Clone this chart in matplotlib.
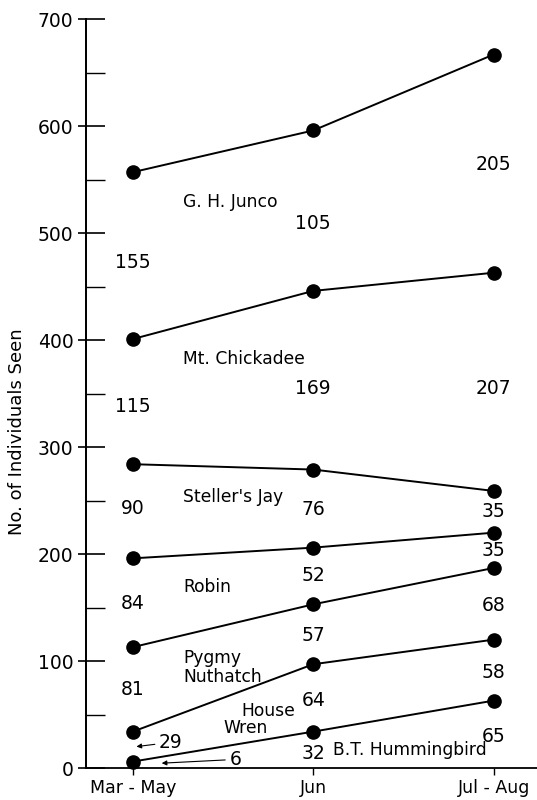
import numpy as np
import matplotlib.pyplot as plt
from matplotlib.ticker import MultipleLocator

# -------------------------
# Data (cumulative totals)
# -------------------------
periods = ["Mar - May", "Jun", "Jul - Aug"]

hummingbird = [6, 34, 63]
house_wren = [34, 97, 120]
nuthatch = [113, 153, 187]
robin = [196, 206, 220]
stellers_jay = [284, 279, 259]
chickadee = [401, 446, 463]
junco = [557, 596, 667]

# counts printed between the lines
counts_marmay = ["155", "115", "90", "84", "81"]
counts_marmay_y = [473, 338, 243, 154, 73]
counts_jun = ["105", "169", "76", "52", "57", "64", "32"]
counts_jun_y = [509, 355, 242, 180, 124, 63, 14]
counts_julaug = ["205", "207", "35", "35", "68", "58", "65"]
counts_julaug_y = [564, 355, 240, 203, 152, 89, 29]

# species names (x, y in data units)
species = ["G. H. Junco", "Mt. Chickadee", "Steller's Jay", "Robin",
           "Pygmy\nNuthatch", "House", "Wren", "B.T. Hummingbird"]
species_x = [0.28, 0.28, 0.28, 0.28, 0.28, 0.60, 0.50, 1.11]
species_y = [529, 382, 253, 169, 94, 53, 37, 17]

# -------------------------
# Plot
# -------------------------
fig = plt.figure(figsize=(5.37, 8), dpi=100)
ax = fig.add_axes([0.160, 0.040, 0.840, 0.936])

x = np.arange(len(periods))
for series in [hummingbird, house_wren, nuthatch, robin,
               stellers_jay, chickadee, junco]:
    ax.plot(x, series, color="black", linewidth=1.4,
            marker="o", markersize=9.5, clip_on=False, zorder=3)

for label, yv in zip(counts_marmay, counts_marmay_y):
    ax.text(0, yv, label, ha="center", va="center", fontsize=13.5)
for label, yv in zip(counts_jun, counts_jun_y):
    ax.text(1, yv, label, ha="center", va="center", fontsize=13.5)
for label, yv in zip(counts_julaug, counts_julaug_y):
    ax.text(2, yv, label, ha="center", va="center", fontsize=13.5)

for label, xv, yv in zip(species, species_x, species_y):
    ax.text(xv, yv, label, ha="left", va="center", fontsize=12.3,
            linespacing=1.1)

# arrows for the two small Mar-May counts
ax.annotate("29", xy=(0.02, 20), xytext=(0.145, 24), fontsize=13.5,
            ha="left", va="center",
            arrowprops=dict(arrowstyle="-|>", color="black", lw=0.8,
                            mutation_scale=7, shrinkA=1, shrinkB=0))
ax.annotate("6", xy=(0.16, 4.5), xytext=(0.535, 8), fontsize=13.5,
            ha="left", va="center",
            arrowprops=dict(arrowstyle="-|>", color="black", lw=0.8,
                            mutation_scale=7, shrinkA=1, shrinkB=0))

ax.set_xlim(-0.26, 2.24)
ax.set_ylim(0, 700)
ax.set_xticks(x)
ax.set_xticklabels(periods, fontsize=12.5)
ax.yaxis.set_major_locator(MultipleLocator(100))
ax.yaxis.set_minor_locator(MultipleLocator(50))
ax.tick_params(axis="y", which="major", direction="in", length=14,
               width=1.2, labelsize=13.5, pad=9)
ax.tick_params(axis="y", which="minor", direction="in", length=14, width=1.0)
ax.tick_params(axis="x", direction="out", length=5, width=1.0, pad=3)

# short outward stubs on the major y ticks
sec = ax.secondary_yaxis("left")
sec.yaxis.set_major_locator(MultipleLocator(100))
sec.tick_params(axis="y", direction="out", length=6, width=1.2,
                labelleft=False)
sec.spines["left"].set_linewidth(1.3)

ax.set_ylabel("No. of Individuals Seen", fontsize=13)
ax.yaxis.set_label_coords(-0.133, 0.449)

ax.spines["top"].set_visible(False)
ax.spines["right"].set_visible(False)
ax.spines["left"].set_linewidth(1.3)
ax.spines["bottom"].set_linewidth(1.3)

fig.savefig("out.png", dpi=100)
